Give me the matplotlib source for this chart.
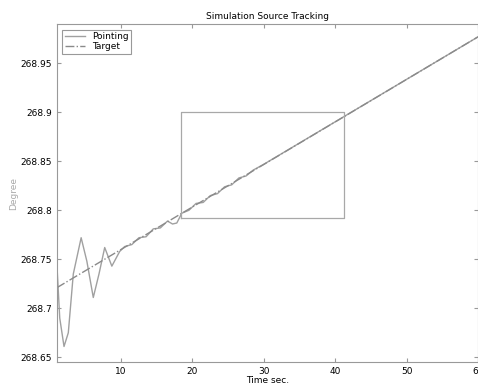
import matplotlib
matplotlib.use("Agg")
import matplotlib.pyplot as plt

# pointing
t_point = [1.0, 1.4, 2.0, 2.6, 3.3, 4.4, 5.2, 6.1, 6.9, 7.7, 8.7, 9.8, 10.5, 11.5, 12.5,
           13.5, 14.5, 15.5, 16.5, 17.2, 17.8, 18.5, 19.5, 20.5, 21.5, 22.5, 23.5, 24.5,
           25.5, 26.5, 27.5, 28.5, 30.0, 60.0]
y_point = [268.745, 268.690, 268.661, 268.675, 268.735, 268.772, 268.748, 268.711, 268.735,
           268.762, 268.743, 268.758, 268.763, 268.765, 268.772, 268.773, 268.781, 268.782,
           268.789, 268.786, 268.787, 268.797, 268.800, 268.807, 268.808, 268.815, 268.817,
           268.824, 268.826, 268.833, 268.835, 268.841, 268.847, 268.977]

# target
t_target = [1.0, 60.0]
y_target = [268.721, 268.977]

# zoom box
box_t = [18.4, 41.2, 41.2, 18.4, 18.4]
box_y = [268.792, 268.792, 268.9, 268.9, 268.792]

fig = plt.figure(figsize=(4.78, 3.89), dpi=100)
ax = fig.add_axes([0.119, 0.069, 0.881, 0.869])

ax.plot(t_point, y_point, color="#a0a0a0", lw=1.0, label="Pointing")
ax.plot(t_target, y_target, color="#8a8a8a", lw=1.0, ls="-.", label="Target")
ax.plot(box_t, box_y, color="#a8a8a8", lw=0.9)

ax.set_xlim(1, 60)
ax.set_ylim(268.645, 268.99)
ax.set_xticks([10, 20, 30, 40, 50, 60])
ax.set_yticks([268.65, 268.7, 268.75, 268.8, 268.85, 268.9, 268.95])
ax.set_yticklabels(["268.65", "268.7", "268.75", "268.8", "268.85", "268.9", "268.95"])
ax.tick_params(direction="in", labelsize=6.5, top=True, right=True, length=3,
               color="#999999")
for s in ax.spines.values():
    s.set_color("#999999")
    s.set_linewidth(0.8)

ax.set_title("Simulation Source Tracking", fontsize=6.5, pad=4)
ax.set_xlabel("Time sec.", fontsize=6.5, labelpad=0)
ax.set_ylabel("Degree", fontsize=6.5, color="#aaaaaa", labelpad=2)

leg = ax.legend(loc="upper left", fontsize=6.5, handlelength=2.2, borderpad=0.3,
                labelspacing=0.1, fancybox=False, framealpha=1, borderaxespad=0.6)
leg.get_frame().set_edgecolor("#999999")
leg.get_frame().set_linewidth(0.8)

fig.savefig("out.png", dpi=100)
